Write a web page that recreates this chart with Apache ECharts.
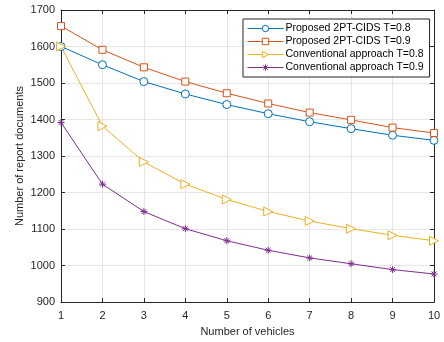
<!DOCTYPE html>
<html>
<head>
<meta charset="utf-8">
<script src="https://cdn.jsdelivr.net/npm/echarts@6/dist/echarts.min.js"></script>
<style>
  html, body { margin: 0; padding: 0; background: #fff; }
  #chart { width: 444px; height: 342px; }
</style>
</head>
<body>
<div id="chart"></div>
<script>
// 数据
const vehicles = [1, 2, 3, 4, 5, 6, 7, 8, 9, 10]
const proposed08 = [1600, 1550, 1504, 1470, 1441, 1416, 1394, 1375, 1357, 1343]
const proposed09 = [1656, 1591, 1543, 1504, 1472, 1444, 1419, 1399, 1378, 1363]
const conv08 = [1600, 1382, 1284, 1223, 1181, 1148, 1122, 1101, 1083, 1068]
const conv09 = [1392, 1223, 1148, 1101, 1068, 1042, 1021, 1005, 989, 977]
const seriesNames = ['Proposed 2PT-CIDS T=0.8', 'Proposed 2PT-CIDS T=0.9',
    'Conventional approach T=0.8', 'Conventional approach T=0.9']

function pairs(ys) {
    return vehicles.map(function (x, i) { return [x, ys[i]] })
}

const triRight = 'path://M0,0L10,5L0,10Z'
const star = 'path://M5,0L5,10M0,5L10,5M1.5,1.5L8.5,8.5M8.5,1.5L1.5,8.5'

function mkSeries(name, data, color, symbol, size) {
    return {
        name: name,
        type: 'line',
        data: pairs(data),
        symbol: symbol,
        symbolSize: size,
        color: color,
        lineStyle: { color: color, width: 1 },
        itemStyle: { color: symbol === star ? color : '#fff', borderColor: color, borderWidth: 1 },
        emphasis: { disabled: true },
        z: 3
    }
}

const axisText = { color: '#262626', fontSize: 11, fontFamily: 'Liberation Sans, Arial, sans-serif' }

const chart = echarts.init(document.getElementById('chart'))
const option = {
    animation: false,
    backgroundColor: '#fff',
    grid: { left: 61, right: 10, top: 10, bottom: 39 },
    legend: {
        orient: 'vertical',
        left: 243,
        top: 19,
        width: 194,
        backgroundColor: '#fff',
        borderColor: '#262626',
        borderWidth: 1,
        padding: [4, 6, 4, 4],
        itemGap: 2,
        itemWidth: 36,
        itemHeight: 8,
        lineStyle: { width: 1 },
        itemStyle: { borderWidth: 1 },
        textStyle: { fontSize: 10.5, color: '#000', fontFamily: 'Liberation Sans, Arial, sans-serif', padding: [0, 0, 0, -3] },
        data: seriesNames
    },
    xAxis: [{
        type: 'value', min: 1, max: 10, interval: 1,
        name: 'Number of vehicles', nameLocation: 'middle', nameGap: 22,
        nameTextStyle: axisText,
        axisLine: { lineStyle: { color: '#262626', width: 1 } },
        axisTick: { inside: true, length: 4, lineStyle: { color: '#262626' } },
        axisLabel: Object.assign({ margin: 8 }, axisText),
        splitLine: { show: true, lineStyle: { color: '#e6e6e6', width: 1 } }
    }, {
        type: 'value', min: 1, max: 10, interval: 1, position: 'top',
        axisLine: { show: true, lineStyle: { color: '#262626', width: 1 } },
        axisTick: { inside: true, length: 4, lineStyle: { color: '#262626' } },
        axisLabel: { show: false },
        splitLine: { show: false }
    }],
    yAxis: [{
        type: 'value', min: 900, max: 1700, interval: 100,
        name: 'Number of report documents', nameLocation: 'middle', nameGap: 36,
        nameMoveOverlap: false,
        nameTextStyle: axisText,
        axisLine: { show: true, lineStyle: { color: '#262626', width: 1 } },
        axisTick: { show: true, inside: true, length: 4, lineStyle: { color: '#262626' } },
        axisLabel: Object.assign({ margin: 6, formatter: function (v) { return String(v) } }, axisText),
        splitLine: { show: true, lineStyle: { color: '#e6e6e6', width: 1 } }
    }, {
        type: 'value', min: 900, max: 1700, interval: 100, position: 'right',
        axisLine: { show: true, lineStyle: { color: '#262626', width: 1 } },
        axisTick: { show: true, inside: true, length: 4, lineStyle: { color: '#262626' } },
        axisLabel: { show: false },
        splitLine: { show: false }
    }],
    series: [
        mkSeries(seriesNames[0], proposed08, '#0072BD', 'circle', 8),
        mkSeries(seriesNames[1], proposed09, '#D95319', 'rect', 7),
        mkSeries(seriesNames[2], conv08, '#EDB120', triRight, 9),
        mkSeries(seriesNames[3], conv09, '#7E2F8E', star, 7)
    ]
}
chart.setOption(option)
</script>
</body>
</html>
